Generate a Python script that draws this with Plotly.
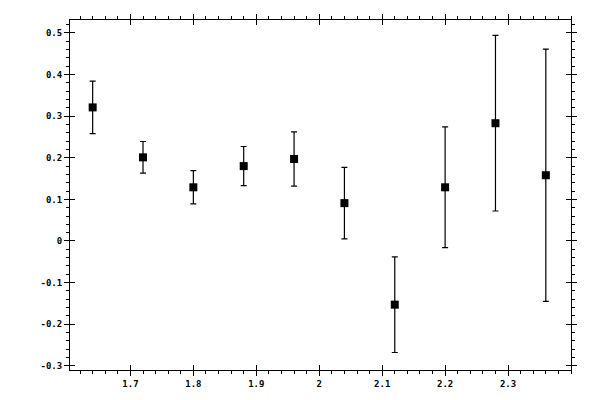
import plotly.graph_objects as go

# valeurs
x_vals = [1.64, 1.72, 1.80, 1.88, 1.96, 2.04, 2.12, 2.20, 2.28, 2.36]
y_vals = [0.321, 0.201, 0.129, 0.180, 0.197, 0.091, -0.153, 0.129, 0.283, 0.158]
y_err = [0.063, 0.038, 0.040, 0.047, 0.065, 0.086, 0.115, 0.145, 0.211, 0.303]

x_ticks = [1.7, 1.8, 1.9, 2.0, 2.1, 2.2, 2.3]
x_labels = ['1.7', '1.8', '1.9', '2', '2.1', '2.2', '2.3']
y_ticks = [-0.3, -0.2, -0.1, 0, 0.1, 0.2, 0.3, 0.4, 0.5]
y_labels = ['-0.3', '-0.2', '-0.1', '0', '0.1', '0.2', '0.3', '0.4', '0.5']

x_range = [1.604, 2.4]
y_range = [-0.31, 0.531]

fig = go.Figure()

fig.add_trace(go.Scatter(
    x=x_vals, y=y_vals, mode='markers',
    marker=dict(symbol='square', size=8, color='black'),
    error_y=dict(type='data', array=y_err, visible=True,
                 color='black', thickness=1.2, width=3),
    showlegend=False, hoverinfo='skip'))

# trace invisible pour les axes superposes (ticks majeurs vers l'interieur)
fig.add_trace(go.Scatter(x=[x_range[0]], y=[y_range[0]], xaxis='x2', yaxis='y2',
                         mode='markers', marker=dict(opacity=0),
                         showlegend=False, hoverinfo='skip'))

police = dict(family='DejaVu Sans Mono', size=9, color='black', weight='bold')

fig.update_layout(
    width=600, height=400,
    margin=dict(l=70, r=29, t=20, b=30),
    paper_bgcolor='white', plot_bgcolor='white',
    xaxis=dict(range=x_range, tickvals=x_ticks, ticktext=x_labels,
               ticks='outside', ticklen=5, tickwidth=1, tickcolor='black',
               showline=True, linecolor='black', linewidth=1, mirror='ticks',
               showgrid=False, zeroline=False, tickfont=police, automargin=False,
               minor=dict(dtick=0.02, tick0=1.6, ticks='outside', ticklen=3,
                          tickcolor='black', showgrid=False)),
    yaxis=dict(range=y_range, tickvals=y_ticks, ticktext=y_labels,
               ticks='outside', ticklen=5, tickwidth=1, tickcolor='black',
               showline=True, linecolor='black', linewidth=1, mirror='ticks',
               showgrid=False, zeroline=False, tickfont=police, automargin=False,
               minor=dict(dtick=0.02, tick0=0, ticks='outside', ticklen=3,
                          tickcolor='black', showgrid=False)),
    xaxis2=dict(range=x_range, overlaying='x', tickvals=x_ticks,
                ticks='inside', ticklen=5, tickwidth=1, tickcolor='black',
                mirror='ticks', showticklabels=False, showgrid=False,
                zeroline=False, showline=False, automargin=False),
    yaxis2=dict(range=y_range, overlaying='y', tickvals=y_ticks,
                ticks='inside', ticklen=5, tickwidth=1, tickcolor='black',
                mirror='ticks', showticklabels=False, showgrid=False,
                zeroline=False, showline=False, automargin=False),
)

# enlever la marge par defaut de la page
fig.write_html("out.html", config={'displayModeBar': False},
               post_script="document.body.style.margin='0';")
